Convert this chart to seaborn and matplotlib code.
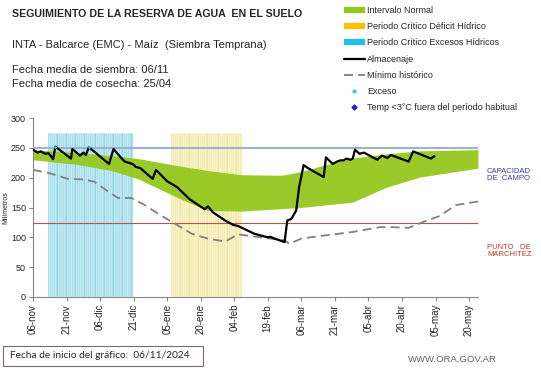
import matplotlib
matplotlib.use("Agg")
import matplotlib.pyplot as plt
import seaborn as sns
import numpy as np
from matplotlib.lines import Line2D
from matplotlib.patches import Rectangle

# ---------------- data ----------------
tick_days = list(range(0, 196, 15))
tick_labels = ["06-nov", "21-nov", "06-dic", "21-dic", "05-ene", "20-ene", "04-feb",
               "19-feb", "06-mar", "21-mar", "05-abr", "20-abr", "05-may", "20-may"]

# critical periods (daily bars)
excess_days = list(range(7, 45))
deficit_days = list(range(62, 94))
period_height = 275

# normal interval band
band_days = [0, 20, 35, 47, 65, 78, 93, 111, 120, 130, 143, 158, 173, 199]
band_upper = [247, 242, 237, 232, 220, 212, 205, 204, 210, 221, 233, 240, 245, 247]
band_lower = [230, 222, 212, 198, 166, 145, 144, 148, 150, 154, 159, 184, 201, 216]

# storage (Almacenaje)
alm_days = [0, 2, 3.5, 5.5, 7, 9, 10, 17, 17.6, 21, 22.6, 23.6, 25, 34, 36, 39, 41, 44.5,
            46, 48, 53.5, 55, 60, 64.5, 70, 76.8, 78.3, 80.4, 86, 89.4, 91.7, 99, 105, 106,
            108, 112.5, 113.7, 115.5, 117.7, 119, 121, 123, 130, 131, 134, 136, 137.5, 139,
            140, 142, 143, 144, 146, 148, 154, 156, 158.5, 160, 168, 170, 178, 179.5]
alm_vals = [247, 242, 244, 240, 241, 231, 252, 232, 248, 237, 242, 238, 251, 223, 248, 235,
            227, 223, 218, 216, 198, 213, 194, 184, 164, 147, 152, 142, 128, 121, 119, 106,
            100, 101, 98, 92, 128, 131, 145, 184, 221, 216, 201, 234, 223, 227, 229, 229,
            232, 230, 232, 247, 240, 242, 230, 237, 233, 238, 227, 244, 232, 236]

# historical minimum
min_days = [0, 7, 15.6, 23, 27.5, 35, 38, 44, 50, 57, 63, 71, 78, 86, 91.6, 97.6, 103.6,
            112.5, 114.7, 120, 128, 143, 155, 161, 168, 176, 182, 189, 199]
min_vals = [213, 208, 198, 197, 193, 173, 166, 166, 154, 137, 124, 106, 98, 93, 105, 102,
            99, 95, 89, 98, 102, 109, 117, 117, 116, 128, 136, 154, 160]

# excess points
exc_days = [10, 25]
exc_vals = [252, 251]

field_capacity = 250
wilting_point = 124

# ---------------- style ----------------
sns.set_style("white")
plt.rcParams["font.family"] = ["Liberation Sans", "DejaVu Sans"]

W, H = 541, 368
fig = plt.figure(figsize=(W / 100, H / 100), dpi=100)
ax = fig.add_axes([33 / W, 1 - 297 / H, (478 - 33) / W, (297 - 118) / H])

green = "#95C81E"

ax.bar(excess_days, [period_height] * len(excess_days), width=1.0,
       color="#93D8E6", edgecolor="white", linewidth=0.35, zorder=1)
ax.bar(deficit_days, [period_height] * len(deficit_days), width=1.0,
       color="#F2E8A2", edgecolor="white", linewidth=0.35, zorder=1)

ax.fill_between(band_days, band_lower, band_upper, color=green, linewidth=0,
                alpha=0.95, zorder=2)

ax.axhline(field_capacity, color="#9DB2CE", lw=1.5, zorder=3)
ax.axhline(wilting_point, color="#C0504D", lw=0.8, zorder=3)

sns.lineplot(x=min_days, y=min_vals, ax=ax, color="#808080", lw=1.3,
             linestyle=(0, (5, 2.8)), sort=False, zorder=4)
sns.lineplot(x=alm_days, y=alm_vals, ax=ax, color="black", lw=1.6,
             sort=False, zorder=5)
ax.scatter(exc_days, exc_vals, s=4, color="#33CCDD", zorder=6, linewidths=0)

ax.set_xlim(0, 199)
ax.set_ylim(0, 300)
ax.set_xticks(tick_days)
ax.set_xticklabels(tick_labels, rotation=90, fontsize=7)
ax.set_yticks(range(0, 301, 50))
ax.tick_params(axis="y", labelsize=6.5, length=3, direction="out", pad=2,
               color="#868686", left=True)
ax.tick_params(axis="x", length=3, direction="out", pad=2, color="#868686",
               bottom=True)
ax.set_ylabel("Milímetros", fontsize=5, labelpad=1)
for s in ["top", "right"]:
    ax.spines[s].set_visible(False)
for s in ["left", "bottom"]:
    ax.spines[s].set_color("#868686")
    ax.spines[s].set_linewidth(0.8)

# ---------------- texts ----------------
fig.text(12 / W, 1 - 14 / H, "SEGUIMIENTO DE LA RESERVA DE AGUA  EN EL SUELO",
         fontsize=7.7, fontweight="bold", va="center", ha="left")
fig.text(12 / W, 1 - 45 / H, "INTA - Balcarce (EMC) - Maíz  (Siembra Temprana)",
         fontsize=8, va="center", ha="left", color="#262626")
fig.text(12 / W, 1 - 70 / H, "Fecha media de siembra: 06/11",
         fontsize=8, va="center", ha="left", color="#262626")
fig.text(12 / W, 1 - 84 / H, "Fecha media de cosecha: 25/04",
         fontsize=8, va="center", ha="left", color="#262626")

fig.text(487 / W, 1 - 175 / H, "CAPACIDAD\nDE  CAMPO", fontsize=5.5,
         color="#3A3AB0", va="center", ha="left", linespacing=1.1)
fig.text(487 / W, 1 - 251 / H, "PUNTO   DE\nMARCHITEZ", fontsize=5.5,
         color="#C0392B", va="center", ha="left", linespacing=1.1)

# legend
handles = [
    Line2D([], [], color=green, lw=4.5, solid_capstyle="butt"),
    Line2D([], [], color="#FFC000", lw=4.5, solid_capstyle="butt"),
    Line2D([], [], color="#1FC0EC", lw=4.5, solid_capstyle="butt"),
    Line2D([], [], color="black", lw=1.6),
    Line2D([], [], color="#808080", lw=1.3, linestyle=(0, (5, 2.8))),
    Line2D([], [], color="#33CCDD", marker="o", ls="none", ms=2),
    Line2D([], [], color="#1F1FBF", marker="D", ls="none", ms=2.5),
]
labels = ["Intervalo Normal", "Periodo Crítico Déficit Hídrico",
          "Periodo Crítico Excesos Hídricos", "Almacenaje", "Mínimo histórico",
          "Exceso", "Temp <3°C fuera del período habitual"]
fig.legend(handles, labels, loc="upper left", bbox_to_anchor=(344 / W, 1 - 6 / H),
           frameon=False, fontsize=6.5, handlelength=2.3, handletextpad=0.3,
           labelspacing=0.8, borderpad=0, borderaxespad=0)

# bottom box
fig.add_artist(Rectangle((3 / W, 1 - 366 / H), 200 / W, 20 / H,
                         transform=fig.transFigure, fill=False,
                         edgecolor="#7F6A6A", lw=0.8))
fig.text(10 / W, 1 - 356 / H, "Fecha de inicio del gráfico:  06/11/2024",
         fontsize=7.3, family=["Lato", "DejaVu Sans"], va="center", ha="left",
         color="#262626")
fig.text(497 / W, 1 - 360 / H, "WWW.ORA.GOV.AR", fontsize=6.8, va="center",
         ha="right", color="#606060")

fig.savefig("out.png", dpi=100)
